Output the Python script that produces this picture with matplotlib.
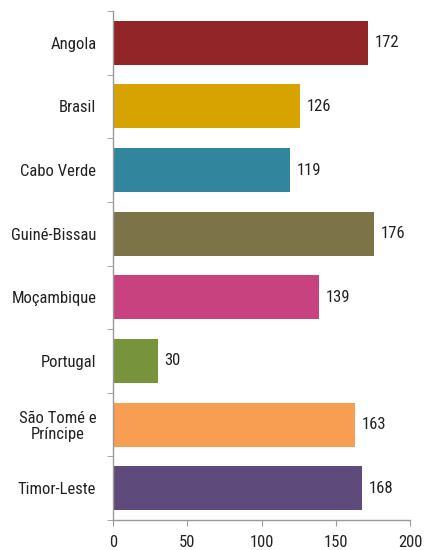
import matplotlib
matplotlib.use("Agg")
import matplotlib.pyplot as plt
from matplotlib.ticker import FixedLocator
import numpy as np

categories = ["Angola", "Brasil", "Cabo Verde", "Guiné-Bissau", "Moçambique",
              "Portugal", "São Tomé e\nPríncipe", "Timor-Leste"]
values = [172, 126, 119, 176, 139, 30, 163, 168]
colors = ["#922528", "#D6A300", "#31859C", "#7D7349", "#C8427F",
          "#77933C", "#F79E53", "#5F4B7B"]
xticks = [0, 50, 100, 150, 200]

plt.rcParams['font.family'] = ['Roboto Condensed', 'DejaVu Sans']

FS = 12
fig = plt.figure(figsize=(4.24, 5.5), dpi=100)
ax = fig.add_axes([113/424, 1-520/550, (410-113)/424, (520-11)/550])

y = np.arange(len(categories))
ax.barh(y, values, height=0.69, color=colors, edgecolor='none')
for yi, v in zip(y, values):
    ax.text(v + 4.5, yi, str(v), va='center', ha='left', fontsize=FS, color='#222222')

ax.set_ylim(len(categories) - 0.5, -0.5)
ax.set_xlim(0, 200)
ax.set_xticks(xticks)
ax.set_yticks(y)
ax.set_yticklabels(categories, fontsize=FS, color='#222222', linespacing=1.05)
for lbl in ax.get_yticklabels():
    lbl.set_multialignment('center')
ax.yaxis.set_minor_locator(FixedLocator(np.arange(-0.5, len(categories), 1)))
ax.tick_params(axis='y', which='major', length=0, pad=12)
ax.tick_params(axis='y', which='minor', length=4, color='#999999', direction='out')
ax.tick_params(axis='x', length=4, color='#999999', labelsize=FS, labelcolor='#222222', pad=7)
for s in ['top', 'right']:
    ax.spines[s].set_visible(False)
for s in ['left', 'bottom']:
    ax.spines[s].set_color('#999999')
    ax.spines[s].set_linewidth(1.0)

fig.savefig("out.png", dpi=100, facecolor='white')
